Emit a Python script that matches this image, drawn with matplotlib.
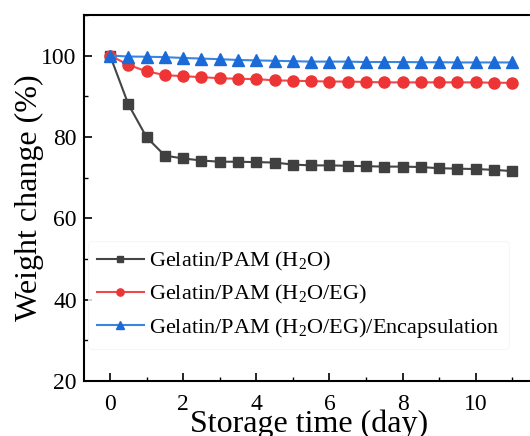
import numpy as np
import matplotlib
matplotlib.use("Agg")
import matplotlib.pyplot as plt
from matplotlib.ticker import MultipleLocator

# ========================
# Data
# ========================
days = np.arange(0, 11.5, 0.5)

water = [100, 88.0, 79.9, 75.4, 74.7, 74.2, 73.9, 73.9, 73.8, 73.7, 73.2, 73.0,
         73.0, 72.9, 72.8, 72.7, 72.7, 72.6, 72.3, 72.2, 72.1, 71.9, 71.6]
water_eg = [100, 97.7, 96.1, 95.2, 94.9, 94.7, 94.4, 94.3, 94.2, 93.9, 93.8, 93.7,
            93.6, 93.6, 93.5, 93.4, 93.4, 93.4, 93.4, 93.4, 93.4, 93.3, 93.3]
encap = [100, 99.75, 99.7, 99.6, 99.4, 99.25, 99.1, 98.9, 98.8, 98.7, 98.6, 98.5,
         98.5, 98.5, 98.4, 98.4, 98.4, 98.35, 98.35, 98.3, 98.3, 98.3, 98.3]

labels = [r"Gelatin/PAM (H$_\mathregular{2}$O)",
          r"Gelatin/PAM (H$_\mathregular{2}$O/EG)",
          r"Gelatin/PAM (H$_\mathregular{2}$O/EG)/Encapsulation"]

plt.rcParams["font.family"] = ["Liberation Serif", "DejaVu Serif"]
plt.rcParams["mathtext.fontset"] = "custom"
plt.rcParams["mathtext.rm"] = "Liberation Serif"

# ========================
# Figure setup
# ========================
fig = plt.figure(figsize=(5.3, 4.36), dpi=100)
ax = fig.add_axes([0.158, 0.126, 0.85, 0.84])

ax.plot(days, water, color="#444444", marker="s", ms=7, lw=1.5,
        markerfacecolor="#404040", markeredgecolor="#404040", label=labels[0])
ax.plot(days, water_eg, color="#f04848", marker="o", ms=8, lw=1.5,
        markerfacecolor="#ee3535", markeredgecolor="#ee3535", label=labels[1])
ax.plot(days, encap, color="#3a85e0", marker="^", ms=8, lw=1.5,
        markerfacecolor="#1a6ad8", markeredgecolor="#1a6ad8", label=labels[2])

ax.set_xlim(-0.72, 11.6)
ax.set_ylim(20, 110)
ax.xaxis.set_major_locator(MultipleLocator(2))
ax.xaxis.set_minor_locator(MultipleLocator(1))
ax.yaxis.set_major_locator(MultipleLocator(20))
ax.yaxis.set_minor_locator(MultipleLocator(10))
ax.tick_params(which="both", direction="in", labelsize=17)
ax.tick_params(axis="y", pad=5)
ax.tick_params(axis="x", pad=9.5)
ax.tick_params(which="major", length=6, width=1.2)
ax.tick_params(which="minor", length=3, width=1.0)
for s in ax.spines.values():
    s.set_linewidth(1.5)

ax.set_xlabel("Storage time (day)", fontsize=23, labelpad=-4)
ax.set_ylabel("Weight change (%)", fontsize=23, labelpad=-2)

leg = ax.legend(loc="lower left", bbox_to_anchor=(0.0, 0.075), fontsize=16,
                frameon=True, handlelength=2.1, handletextpad=0.25,
                labelspacing=0.45, borderaxespad=0.2, markerscale=0.65)
leg.get_frame().set_edgecolor("#f4f4f4")
leg.get_frame().set_linewidth(0.8)

fig.savefig("out.png", dpi=100)
